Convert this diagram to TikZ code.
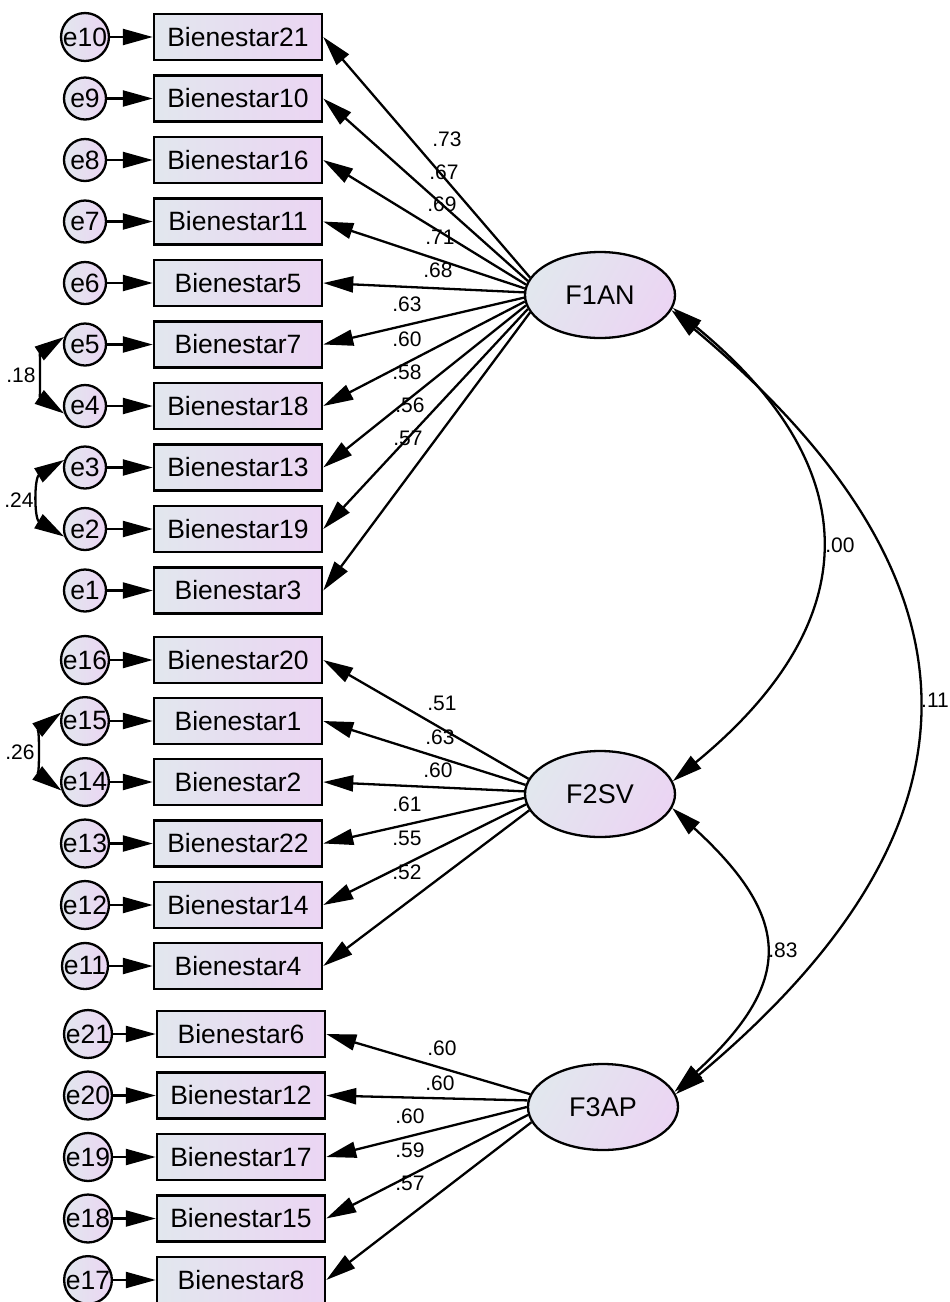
\documentclass[tikz,border=0pt]{standalone}
\usepackage{fontspec}
\setmainfont{Liberation Sans}
\usetikzlibrary{arrows.meta,shapes.geometric}
\definecolor{gl}{RGB}{226,231,238}
\definecolor{gr}{RGB}{235,213,243}
\begin{document}
\begin{tikzpicture}[x=1pt,y=-1pt,
  obs/.style={draw, line width=2.5pt, rectangle, minimum width=168pt, minimum height=46pt, inner sep=0pt, left color=gl, right color=gr, font=\fontsize{26.5}{30}\selectfont},
  err/.style={draw, line width=2.3pt, circle, minimum size=42pt, inner sep=0pt, left color=gl, right color=gr, font=\fontsize{26.5}{30}\selectfont},
  lat/.style={draw, line width=2.3pt, ellipse, minimum width=150pt, minimum height=86pt, inner sep=0pt, left color=gl, right color=gr, shading angle=60, font=\fontsize{27}{30}\selectfont},
  arr/.style={line width=2.3pt, -{Triangle[length=30pt,width=16pt]}},
  biarr/.style={line width=2.3pt, {Triangle[length=30pt,width=16pt]}-{Triangle[length=30pt,width=16pt]}},
  num/.style={font=\fontsize{21}{24}\selectfont, inner sep=0pt}]
\useasboundingbox (0,0) rectangle (950,1302);

\node[lat] (F1AN) at (600,295) {F1AN};
\node[lat] (F2SV) at (600,794) {F2SV};
\node[lat] (F3AP) at (603,1107) {F3AP};

% group 1
\foreach \i/\y/\e/\lab/\lx/\ly/\ang in {
  21/37/10/.73/447/139/166,
  10/98.5/9/.67/444/172/169,
  16/160/8/.69/442/204/172,
  11/221.5/7/.71/440/237/175,
  5/283/6/.68/438/270/178,
  7/344.5/5/.63/407/304/182,
  18/406/4/.60/407/339/185,
  13/467.5/3/.58/407/372/188,
  19/529/2/.56/410/405/191,
  3/590.5/1/.57/408/438/194}{
  \node[obs] (b\i) at (238,\y) {Bienestar\i};
  \node[err] (e\e) at (85,\y) {e\e};
  \draw[arr] (e\e) -- (b\i);
  \draw[arr] (F1AN.\ang) -- (b\i.east);
  \node[num] at (\lx,\ly) {\lab};
}

% group 2
\foreach \i/\y/\e/\lab/\lx/\ly/\ang in {
  20/660/16/.51/442/703/168,
  1/721/15/.63/440/737/173,
  2/782/14/.60/438/770/178,
  22/843.5/13/.61/407/804/183,
  14/905/12/.55/407/838/188,
  4/966/11/.52/407/872/193}{
  \node[obs] (b\i) at (238,\y) {Bienestar\i};
  \node[err] (e\e) at (85,\y) {e\e};
  \draw[arr] (e\e) -- (b\i);
  \draw[arr] (F2SV.\ang) -- (b\i.east);
  \node[num] at (\lx,\ly) {\lab};
}

% group 3
\foreach \i/\y/\e/\lab/\lx/\ly/\ang in {
  6/1034/21/.60/442/1048/170,
  12/1095.5/20/.60/440/1083/175,
  17/1157/19/.60/410/1116/180,
  15/1218.5/18/.59/410/1150/186,
  8/1280/17/.57/410/1183/192}{
  \node[obs] (b\i) at (241,\y) {Bienestar\i};
  \node[err] (e\e) at (88,\y) {e\e};
  \draw[arr] (e\e) -- (b\i);
  \draw[arr] (F3AP.\ang) -- (b\i.east);
  \node[num] at (\lx,\ly) {\lab};
}

% error covariances
\draw[biarr] (e5.160) .. controls +(-24,16) and +(-24,-16) .. (e4.200);
\node[num] at (21,375) {.18};
\draw[biarr] (e3.160) .. controls +(-30,18) and +(-30,-18) .. (e2.200);
\node[num] at (19,500) {.24};
\draw[biarr] (e15.160) .. controls +(-22,16) and +(-22,-16) .. (e14.200);
\node[num] at (20,752) {.26};

% factor covariances
\draw[biarr] (F1AN.-10) .. controls +(195,160) and +(195,-160) .. (F2SV.10);
\node[num] at (840,545) {.00};
\draw[biarr] (F1AN.-12) .. controls +(323,270) and +(323,-270) .. (F3AP.10);
\node[num] at (935,700) {.11};
\draw[biarr] (F2SV.-11) .. controls +(120,110) and +(120,-110) .. (F3AP.12);
\node[num] at (783,950) {.83};
\end{tikzpicture}
\end{document}
